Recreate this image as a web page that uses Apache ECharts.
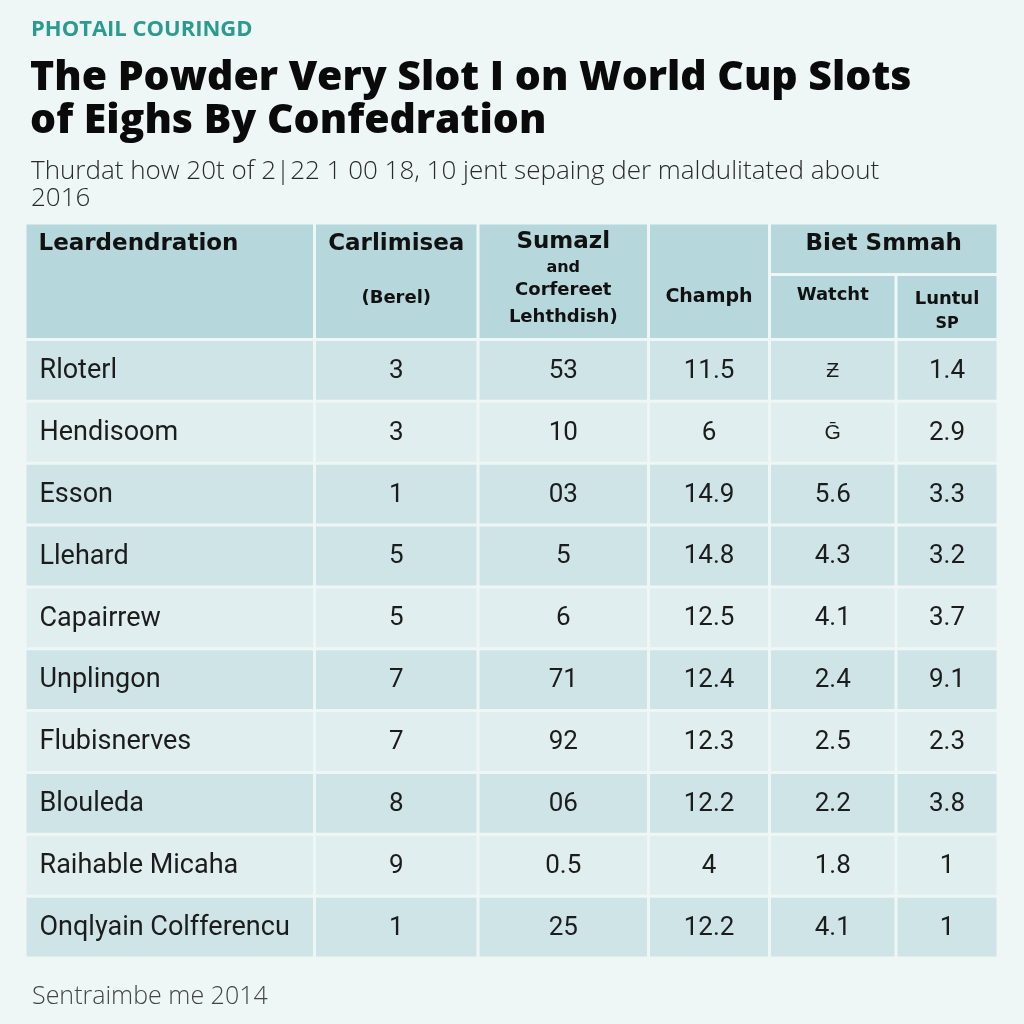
<!DOCTYPE html>
<html><head><meta charset="utf-8">
<script src="https://cdn.jsdelivr.net/npm/echarts@6/dist/echarts.min.js"></script>
<style>html,body{margin:0;padding:0;background:#eff6f6}#c{width:1024px;height:1024px}</style>
</head><body><div id="c"></div>
<script>
// ---- data ----
const rowNames = ['Rloterl','Hendisoom','Esson','Llehard','Capairrew','Unplingon','Flubisnerves','Blouleda','Raihable Micaha','Onqlyain Colfferencu'];
const carlimisea = ['3','3','1','5','5','7','7','8','9','1'];
const sumazl = ['53','10','03','5','6','71','92','06','0.5','25'];
const champh = ['11.5','6','14.9','14.8','12.5','12.4','12.3','12.2','4','12.2'];
const watcht = ['Ƶ','Ḡ','5.6','4.3','4.1','2.4','2.5','2.2','1.8','4.1'];
const luntul = ['1.4','2.9','3.3','3.2','3.7','9.1','2.3','3.8','1','1'];
const columnsData = [rowNames, carlimisea, sumazl, champh, watcht, luntul];

const headerMain = ['Leardendration','Carlimisea','Sumazl','Champh','Biet Smmah'];
const headerSub = ['(Berel)', 'and', 'Corfereet', 'Lehthdish)', 'Watcht', 'Luntul', 'SP'];
const topLabel = 'PHOTAIL COURINGD';
const titleLines = ['The Powder Very Slot I on World Cup Slots','of Eighs By Confedration'];
const subtitleLines = ['Thurdat how 20t of 2|22 1 00 18, 10 jent sepaing der maldulitated about','2016'];
const footnote = 'Sentraimbe me 2014';

// ---- layout / style ----
const colEdges = [0, 289.5, 453, 623.5, 744.5, 871, 973];
const HEAD_H = 116.5, ROW_H = 61.85, SUBHEAD_Y = 51.5;
const TOTAL_H = HEAD_H + ROW_H * 10;
const rowShade = [1,0,1,1,0,1,0,1,0,1];
const DARK = '#cfe4e7', LIGHT = '#e1eeef', HEAD = '#b6d8dc';
const GAP = 1.5;

function cellRect(api, x0, x1, y0, y1) {
  const p0 = api.coord([x0, y0]), p1 = api.coord([x1, y1]);
  return {x: p0[0] + GAP, y: p0[1] + GAP, width: p1[0] - p0[0] - 2 * GAP, height: p1[1] - p0[1] - 2 * GAP};
}

const bodyData = [];
for (let r = 0; r < rowNames.length; r++) for (let c = 0; c < columnsData.length; c++) bodyData.push([c, r]);

function bodyItem(params, api) {
  const c = api.value(0), r = api.value(1);
  const y0 = HEAD_H + r * ROW_H;
  const rc = cellRect(api, colEdges[c], colEdges[c + 1], y0, y0 + ROW_H);
  const txt = columnsData[c][r];
  const glyph = (c === 4 && r < 2);
  const size = glyph ? 21 : (c === 0 ? 27 : 26);
  return {type: 'group', children: [
    {type: 'rect', shape: rc, style: {fill: rowShade[r] ? DARK : LIGHT}},
    {type: 'text', style: {text: txt, x: c === 0 ? rc.x + 13 : rc.x + rc.width / 2, y: rc.y + rc.height / 2 + 1,
      align: c === 0 ? 'left' : 'center', verticalAlign: 'middle', fill: '#1c1c1c',
      font: '400 ' + size + 'px Roboto, sans-serif'}}
  ]};
}

// header cells: [x0col, x1col, y0, y1]
const headerCells = [[0,1,0,HEAD_H],[1,2,0,HEAD_H],[2,3,0,HEAD_H],[3,4,0,HEAD_H],[4,6,0,SUBHEAD_Y],[4,5,SUBHEAD_Y,HEAD_H],[5,6,SUBHEAD_Y,HEAD_H]];
// texts per header cell: [text, dy from cell top, size, align]
const B = 'bold ';
const headerTexts = [
  [[headerMain[0], 21, 23, 'left']],
  [[headerMain[1], 21, 23, 'center'], [headerSub[0], 75, 18, 'center']],
  [[headerMain[2], 19, 23, 'center'], [headerSub[1], 45, 16, 'center'], [headerSub[2], 67, 18, 'center'], [headerSub[3], 94, 18, 'center']],
  [[headerMain[3], 74, 19, 'center']],
  [[headerMain[4], 21, 23, 'center']],
  [[headerSub[4], 21, 18, 'center']],
  [[headerSub[5], 25, 18, 'center'], [headerSub[6], 49, 16, 'center']]
];
function headItem(params, api) {
  const i = params.dataIndex;
  const h = headerCells[i];
  const rc = cellRect(api, colEdges[h[0]], colEdges[h[1]], h[2], h[3]);
  const top = api.coord([0, h[2]])[1];
  const children = [{type: 'rect', shape: rc, style: {fill: HEAD}}];
  headerTexts[i].forEach(t => {
    children.push({type: 'text', style: {text: t[0], x: t[3] === 'left' ? rc.x + 12 : rc.x + rc.width / 2, y: top + t[1],
      align: t[3], verticalAlign: 'middle', fill: '#111', font: B + t[2] + 'px "DejaVu Sans", sans-serif'}});
  });
  return {type: 'group', children};
}

const chart = echarts.init(document.getElementById('c'));
chart.setOption({
  backgroundColor: '#eff6f6',
  animation: false,
  title: [
    {text: topLabel, left: 26, top: 14, textStyle: {color: '#2a9b8f', fontFamily: 'Open Sans', fontWeight: 'bold', fontSize: 22}},
    {text: titleLines.join('\n'), left: 25, top: 52, textStyle: {fontSize: 41, fontWeight: 800, fontFamily: 'Open Sans', color: '#0a0a0a', lineHeight: 43}},
    {text: subtitleLines.join('\n'), left: 26, top: 153, textStyle: {fontSize: 26, fontWeight: 300, fontFamily: 'Open Sans', color: '#2a2a2a', lineHeight: 27}},
    {text: footnote, left: 27, top: 979, textStyle: {fontSize: 25, fontWeight: 300, fontFamily: 'Open Sans', color: '#444'}}
  ],
  grid: {left: 25, top: 223, width: 973, height: TOTAL_H},
  xAxis: {type: 'value', min: 0, max: 973, show: false},
  yAxis: {type: 'value', min: 0, max: TOTAL_H, inverse: true, show: false},
  series: [
    {type: 'custom', renderItem: headItem, data: headerCells.map((h, i) => [i, 0]), silent: true},
    {type: 'custom', renderItem: bodyItem, data: bodyData, silent: true}
  ]
});
</script></body></html>
